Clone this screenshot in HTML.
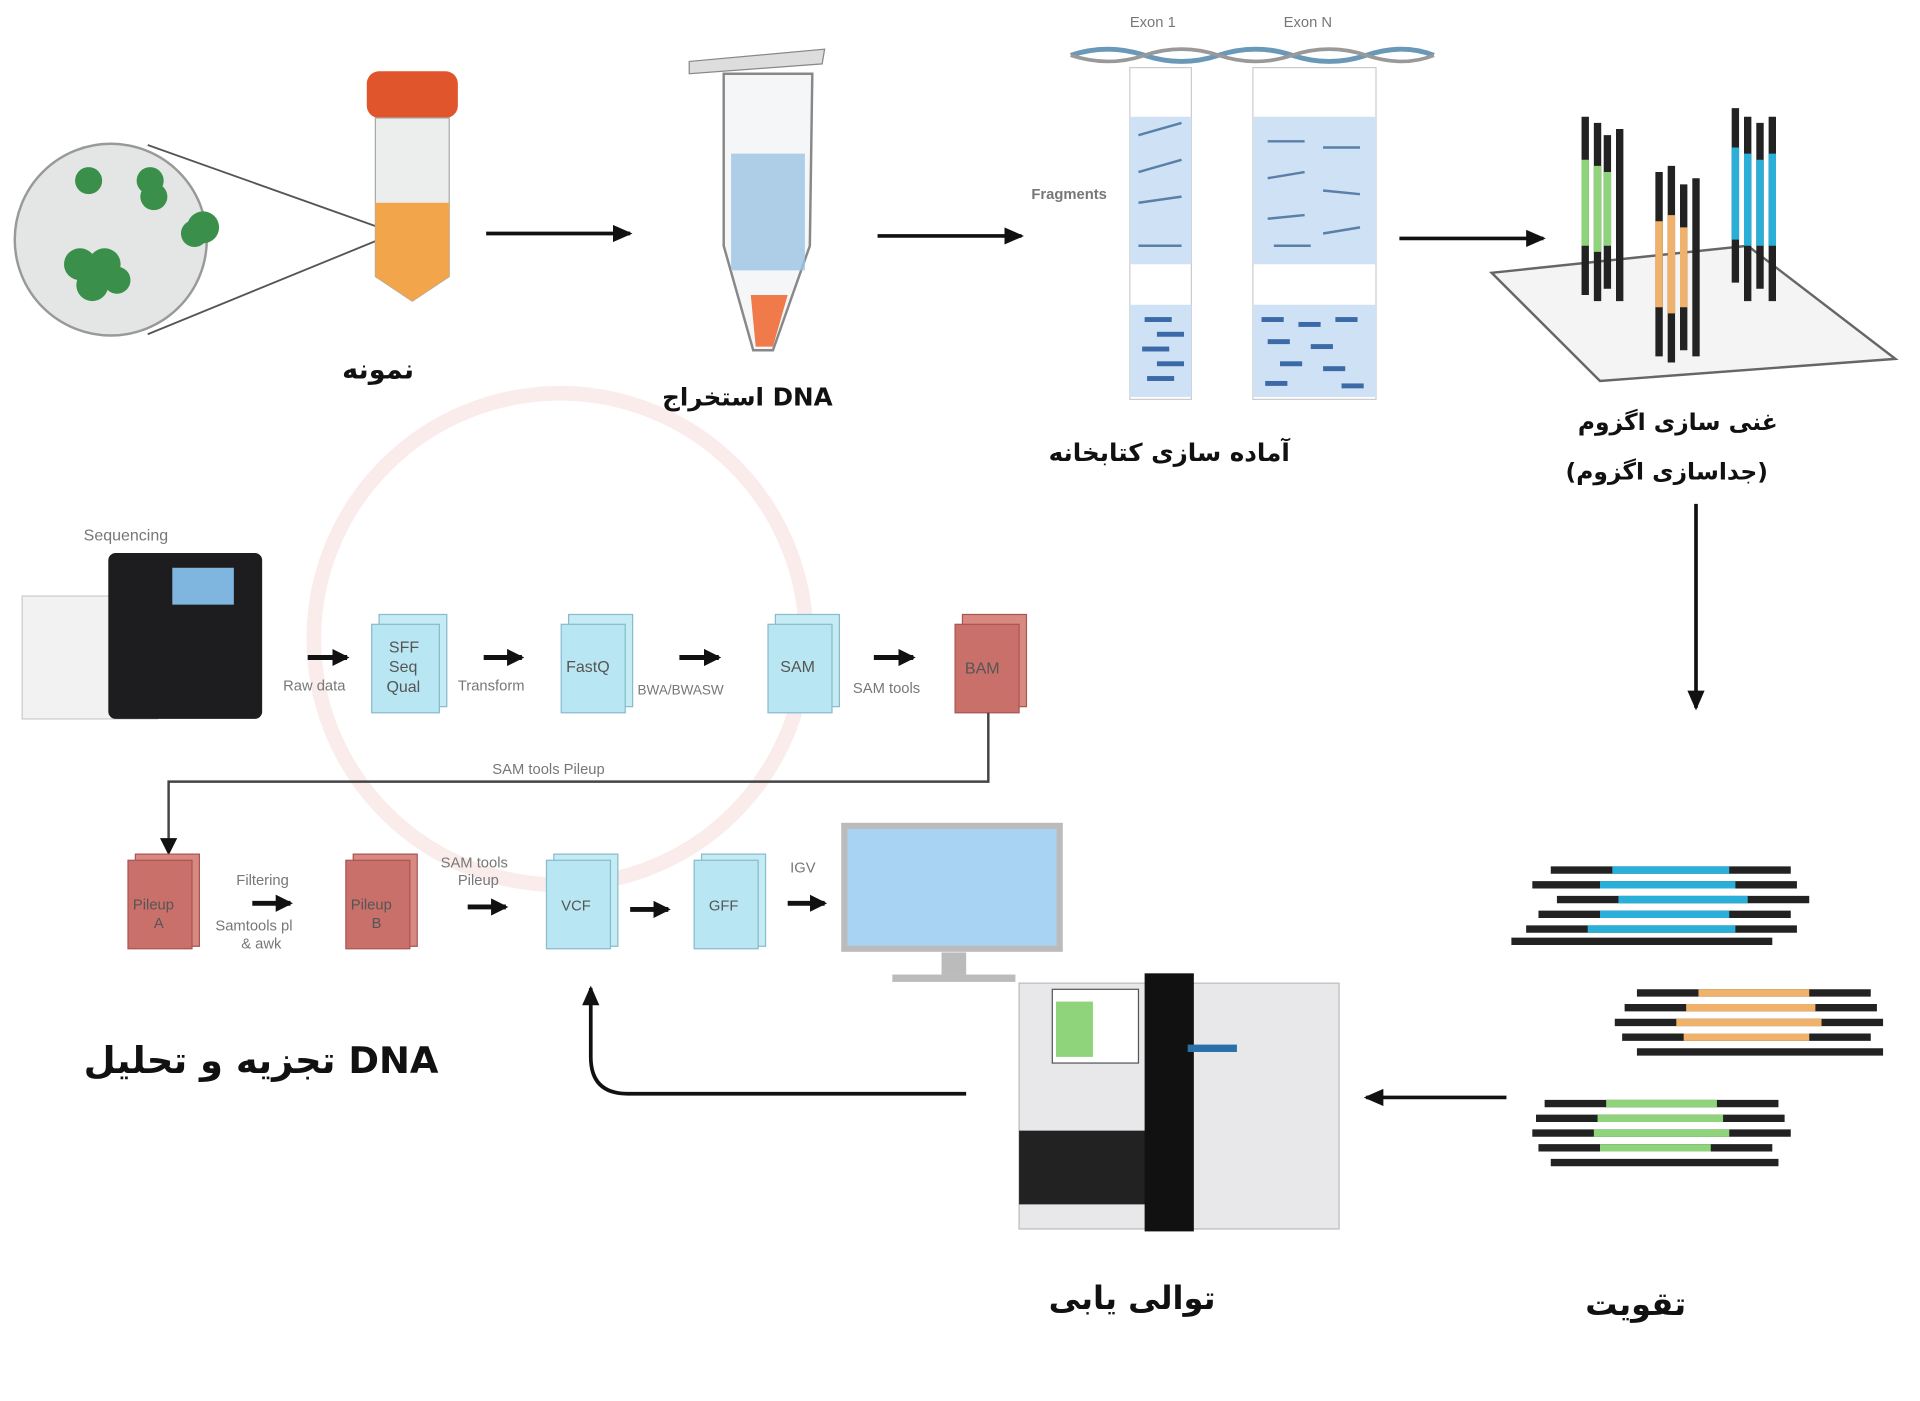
<!DOCTYPE html>
<html><head><meta charset="utf-8"><style>
html,body{margin:0;padding:0;background:#fff;width:1920px;height:1401px;overflow:hidden}
svg{display:block}
.fa{font-family:"DejaVu Sans",sans-serif;font-weight:bold;fill:#111}
.en{font-family:"Liberation Sans",sans-serif;fill:#777}
</style></head><body>
<svg width="1920" height="1401" viewBox="0 0 1560 1140" preserveAspectRatio="none" xmlns="http://www.w3.org/2000/svg">
<defs>
<marker id="ah" markerUnits="userSpaceOnUse" markerWidth="16" markerHeight="14" refX="14" refY="7" orient="auto"><path d="M0,0 L16,7 L0,14 Z" fill="#111"/></marker>
<marker id="as" markerUnits="userSpaceOnUse" markerWidth="14" markerHeight="14" refX="12" refY="7" orient="auto"><path d="M0,0 L14,7 L0,14 Z" fill="#111"/></marker>
</defs>
<circle cx="455" cy="520" r="200" fill="none" stroke="#fbecec" stroke-width="12"/>
<circle cx="90" cy="195" r="78" fill="#e4e6e6" stroke="#999" stroke-width="2"/>
<g fill="#3a8f4a"><circle cx="72" cy="147" r="11"/><circle cx="122" cy="147" r="11"/><circle cx="125" cy="160" r="11"/><circle cx="165" cy="185" r="13"/><circle cx="158" cy="190" r="11"/><circle cx="65" cy="215" r="13"/><circle cx="85" cy="215" r="13"/><circle cx="75" cy="232" r="13"/><circle cx="95" cy="228" r="11"/></g>
<line x1="120" y1="118" x2="308" y2="185" stroke="#555" stroke-width="1.5"/>
<line x1="120" y1="272" x2="308" y2="195" stroke="#555" stroke-width="1.5"/>
<rect x="298" y="58" width="74" height="38" rx="10" fill="#e0552c"/>
<path d="M305 96 L365 96 L365 225 L335 245 L305 225 Z" fill="#eceeee" stroke="#aaa"/>
<path d="M305 165 L365 165 L365 225 L335 245 L305 225 Z" fill="#f2a54a"/>
<text x="278" y="308" class="fa" font-size="22">نمونه</text>
<line x1="395" y1="190" x2="512" y2="190" stroke="#111" stroke-width="3" marker-end="url(#ah)"/>
<path d="M560 50 L670 40 L668 52 L560 60 Z" fill="#ddd" stroke="#888"/>
<path d="M588 60 L660 60 L658 200 L628 285 L612 285 L588 200 Z" fill="#f4f6f7" stroke="#888" stroke-width="2"/>
<rect x="594" y="125" width="60" height="95" fill="#9cc4e4" opacity=".8"/>
<path d="M610 240 L640 240 L628 282 L614 282 Z" fill="#f07a4a"/>
<text x="538" y="330" class="fa" font-size="20">استخراج DNA</text>
<line x1="713" y1="192" x2="830" y2="192" stroke="#111" stroke-width="3" marker-end="url(#ah)"/>
<text x="918" y="22" class="en" font-size="12">Exon 1</text><text x="1043" y="22" class="en" font-size="12">Exon N</text>
<path d="M870 45 Q900 35 930 45 T990 45 T1050 45 T1110 45 T1165 45" stroke="#6a98b8" stroke-width="4" fill="none"/>
<path d="M870 45 Q900 55 930 45 T990 45 T1050 45 T1110 45 T1165 45" stroke="#999" stroke-width="3" fill="none"/>
<rect x="918" y="55" width="50" height="270" fill="#fff" stroke="#ccc"/>
<rect x="1018" y="55" width="100" height="270" fill="#fff" stroke="#ccc"/>
<rect x="918" y="95" width="50" height="120" fill="#cfe1f4"/><rect x="1018" y="95" width="100" height="120" fill="#cfe1f4"/>
<rect x="918" y="248" width="50" height="75" fill="#cfe1f4"/><rect x="1018" y="248" width="100" height="75" fill="#cfe1f4"/>
<g fill="#3c6aa8"><rect x="930" y="258" width="22" height="4"/><rect x="940" y="270" width="22" height="4"/><rect x="928" y="282" width="22" height="4"/><rect x="940" y="294" width="22" height="4"/><rect x="932" y="306" width="22" height="4"/>
<rect x="1025" y="258" width="18" height="4"/><rect x="1055" y="262" width="18" height="4"/><rect x="1085" y="258" width="18" height="4"/><rect x="1030" y="276" width="18" height="4"/><rect x="1065" y="280" width="18" height="4"/><rect x="1040" y="294" width="18" height="4"/><rect x="1075" y="298" width="18" height="4"/><rect x="1028" y="310" width="18" height="4"/><rect x="1090" y="312" width="18" height="4"/></g>
<g stroke="#5a7fa8" stroke-width="2"><line x1="925" y1="110" x2="960" y2="100"/><line x1="925" y1="140" x2="960" y2="130"/><line x1="925" y1="165" x2="960" y2="160"/><line x1="925" y1="200" x2="960" y2="200"/><line x1="1030" y1="115" x2="1060" y2="115"/><line x1="1075" y1="120" x2="1105" y2="120"/><line x1="1030" y1="145" x2="1060" y2="140"/><line x1="1075" y1="155" x2="1105" y2="158"/><line x1="1030" y1="178" x2="1060" y2="175"/><line x1="1075" y1="190" x2="1105" y2="185"/><line x1="1035" y1="200" x2="1065" y2="200"/></g>
<text x="838" y="162" class="en" font-size="12" font-weight="bold">Fragments</text>
<text x="852" y="375" class="fa" font-size="20">آماده سازی کتابخانه</text>
<line x1="1137" y1="194" x2="1254" y2="194" stroke="#111" stroke-width="3" marker-end="url(#ah)"/>
<path d="M1212 222 L1420 200 L1540 292 L1300 310 Z" fill="#f4f4f4" stroke="#666" stroke-width="2"/>
<g stroke-width="6"><line x1="1288" y1="95" x2="1288" y2="240" stroke="#222"/><line x1="1298" y1="100" x2="1298" y2="245" stroke="#222"/><line x1="1306" y1="110" x2="1306" y2="235" stroke="#222"/><line x1="1316" y1="105" x2="1316" y2="245" stroke="#222"/>
<line x1="1288" y1="130" x2="1288" y2="200" stroke="#8fd37a"/><line x1="1298" y1="135" x2="1298" y2="205" stroke="#8fd37a"/><line x1="1306" y1="140" x2="1306" y2="200" stroke="#8fd37a"/>
<line x1="1348" y1="140" x2="1348" y2="290" stroke="#222"/><line x1="1358" y1="135" x2="1358" y2="295" stroke="#222"/><line x1="1368" y1="150" x2="1368" y2="285" stroke="#222"/><line x1="1378" y1="145" x2="1378" y2="290" stroke="#222"/>
<line x1="1348" y1="180" x2="1348" y2="250" stroke="#f0b26a"/><line x1="1358" y1="175" x2="1358" y2="255" stroke="#f0b26a"/><line x1="1368" y1="185" x2="1368" y2="250" stroke="#f0b26a"/>
<line x1="1410" y1="88" x2="1410" y2="230" stroke="#222"/><line x1="1420" y1="95" x2="1420" y2="245" stroke="#222"/><line x1="1430" y1="100" x2="1430" y2="235" stroke="#222"/><line x1="1440" y1="95" x2="1440" y2="245" stroke="#222"/>
<line x1="1410" y1="120" x2="1410" y2="195" stroke="#2ab0d8"/><line x1="1420" y1="125" x2="1420" y2="200" stroke="#2ab0d8"/><line x1="1430" y1="130" x2="1430" y2="200" stroke="#2ab0d8"/><line x1="1440" y1="125" x2="1440" y2="200" stroke="#2ab0d8"/></g>
<text x="1282" y="350" class="fa" font-size="19">غنی سازی اگزوم</text>
<text x="1272" y="390" class="fa" font-size="19">(جداسازی اگزوم)</text>
<line x1="1378" y1="410" x2="1378" y2="576" stroke="#111" stroke-width="3" marker-end="url(#ah)"/>
<g stroke-width="6">
<g stroke="#222"><line x1="1260" y1="708" x2="1455" y2="708"/><line x1="1245" y1="720" x2="1460" y2="720"/><line x1="1265" y1="732" x2="1470" y2="732"/><line x1="1250" y1="744" x2="1455" y2="744"/><line x1="1240" y1="756" x2="1460" y2="756"/><line x1="1228" y1="766" x2="1440" y2="766"/></g>
<g stroke="#2ab0d8"><line x1="1310" y1="708" x2="1405" y2="708"/><line x1="1300" y1="720" x2="1410" y2="720"/><line x1="1315" y1="732" x2="1420" y2="732"/><line x1="1300" y1="744" x2="1405" y2="744"/><line x1="1290" y1="756" x2="1410" y2="756"/></g>
<g stroke="#222"><line x1="1330" y1="808" x2="1520" y2="808"/><line x1="1320" y1="820" x2="1525" y2="820"/><line x1="1312" y1="832" x2="1530" y2="832"/><line x1="1318" y1="844" x2="1520" y2="844"/><line x1="1330" y1="856" x2="1530" y2="856"/></g>
<g stroke="#f0b26a"><line x1="1380" y1="808" x2="1470" y2="808"/><line x1="1370" y1="820" x2="1475" y2="820"/><line x1="1362" y1="832" x2="1480" y2="832"/><line x1="1368" y1="844" x2="1470" y2="844"/></g>
<g stroke="#222"><line x1="1255" y1="898" x2="1445" y2="898"/><line x1="1248" y1="910" x2="1450" y2="910"/><line x1="1245" y1="922" x2="1455" y2="922"/><line x1="1250" y1="934" x2="1440" y2="934"/><line x1="1260" y1="946" x2="1445" y2="946"/></g>
<g stroke="#8fd37a"><line x1="1305" y1="898" x2="1395" y2="898"/><line x1="1298" y1="910" x2="1400" y2="910"/><line x1="1295" y1="922" x2="1405" y2="922"/><line x1="1300" y1="934" x2="1390" y2="934"/></g>
</g>
<text x="1288" y="1070" class="fa" font-size="26">تقویت</text>
<line x1="1224" y1="893" x2="1110" y2="893" stroke="#111" stroke-width="3" marker-end="url(#ah)"/>
<rect x="828" y="800" width="260" height="200" fill="#e8e8ea" stroke="#bbb"/>
<rect x="828" y="920" width="110" height="60" fill="#222"/>
<rect x="930" y="792" width="40" height="210" fill="#111"/>
<rect x="855" y="805" width="70" height="60" fill="#fff" stroke="#555"/>
<rect x="858" y="815" width="30" height="45" fill="#8fd37a"/>
<rect x="965" y="850" width="40" height="6" fill="#2a70a8"/>
<text x="852" y="1065" class="fa" font-size="26">توالی یابی</text>
<path d="M785 890 L510 890 Q480 890 480 860 L480 804" stroke="#111" stroke-width="3" fill="none" marker-end="url(#ah)"/>
<text x="68" y="440" class="en" font-size="13">Sequencing</text>
<rect x="18" y="485" width="110" height="100" fill="#f2f2f2" stroke="#ccc"/>
<rect x="88" y="450" width="125" height="135" fill="#1d1d1f" rx="6"/>
<rect x="140" y="462" width="50" height="30" fill="#7fb6e0"/>
<line x1="250" y1="535" x2="282" y2="535" stroke="#111" stroke-width="4" marker-end="url(#as)"/>
<text x="230" y="562" class="en" font-size="12">Raw data</text>
<g font-family="Liberation Sans,sans-serif" font-size="13" fill="#555">
<rect x="308" y="500" width="55" height="75" fill="#c5ecf5" stroke="#8bc"/><rect x="302" y="508" width="55" height="72" fill="#b8e6f2" stroke="#8bc"/>
<text x="316" y="531">SFF</text><text x="316" y="547">Seq</text><text x="314" y="563">Qual</text>
<rect x="462" y="500" width="52" height="75" fill="#c5ecf5" stroke="#8bc"/><rect x="456" y="508" width="52" height="72" fill="#b8e6f2" stroke="#8bc"/><text x="460" y="547">FastQ</text>
<rect x="630" y="500" width="52" height="75" fill="#c5ecf5" stroke="#8bc"/><rect x="624" y="508" width="52" height="72" fill="#b8e6f2" stroke="#8bc"/><text x="634" y="547">SAM</text>
<rect x="782" y="500" width="52" height="75" fill="#d88a80" stroke="#a55"/><rect x="776" y="508" width="52" height="72" fill="#c9706a" stroke="#a55"/><text x="784" y="548">BAM</text>
</g>
<line x1="393" y1="535" x2="424" y2="535" stroke="#111" stroke-width="4" marker-end="url(#as)"/>
<text x="372" y="562" class="en" font-size="12">Transform</text>
<line x1="552" y1="535" x2="584" y2="535" stroke="#111" stroke-width="4" marker-end="url(#as)"/>
<text x="518" y="565" class="en" font-size="11">BWA/BWASW</text>
<line x1="710" y1="535" x2="742" y2="535" stroke="#111" stroke-width="4" marker-end="url(#as)"/>
<text x="693" y="564" class="en" font-size="12">SAM tools</text>
<text x="400" y="630" class="en" font-size="12">SAM tools Pileup</text>
<path d="M803 580 L803 636 L137 636 L137 694" stroke="#444" stroke-width="2" fill="none" marker-end="url(#as)"/>
<g font-family="Liberation Sans,sans-serif" font-size="12" fill="#555">
<rect x="110" y="695" width="52" height="75" fill="#d88a80" stroke="#a55"/><rect x="104" y="700" width="52" height="72" fill="#c9706a" stroke="#a55"/><text x="108" y="740">Pileup</text><text x="125" y="755">A</text>
<rect x="287" y="695" width="52" height="75" fill="#d88a80" stroke="#a55"/><rect x="281" y="700" width="52" height="72" fill="#c9706a" stroke="#a55"/><text x="285" y="740">Pileup</text><text x="302" y="755">B</text>
<rect x="450" y="695" width="52" height="75" fill="#c5ecf5" stroke="#8bc"/><rect x="444" y="700" width="52" height="72" fill="#b8e6f2" stroke="#8bc"/><text x="456" y="741">VCF</text>
<rect x="570" y="695" width="52" height="75" fill="#c5ecf5" stroke="#8bc"/><rect x="564" y="700" width="52" height="72" fill="#b8e6f2" stroke="#8bc"/><text x="576" y="741">GFF</text>
</g>
<text x="192" y="720" class="en" font-size="12">Filtering</text>
<line x1="205" y1="735" x2="236" y2="735" stroke="#111" stroke-width="4" marker-end="url(#as)"/>
<text x="175" y="757" class="en" font-size="12">Samtools pl</text><text x="196" y="772" class="en" font-size="12">&amp; awk</text>
<text x="358" y="706" class="en" font-size="12">SAM tools</text><text x="372" y="720" class="en" font-size="12">Pileup</text>
<line x1="380" y1="738" x2="411" y2="738" stroke="#111" stroke-width="4" marker-end="url(#as)"/>
<line x1="512" y1="740" x2="543" y2="740" stroke="#111" stroke-width="4" marker-end="url(#as)"/>
<text x="642" y="710" class="en" font-size="12">IGV</text>
<line x1="640" y1="735" x2="670" y2="735" stroke="#111" stroke-width="4" marker-end="url(#as)"/>
<rect x="686" y="672" width="175" height="100" fill="#a9d3f3" stroke="#bbb" stroke-width="5"/>
<rect x="765" y="775" width="20" height="18" fill="#bbb"/><rect x="725" y="793" width="100" height="6" fill="#bbb"/>
<text x="68" y="873" class="fa" font-size="30">تجزیه و تحلیل DNA</text>
</svg>
</body></html>
